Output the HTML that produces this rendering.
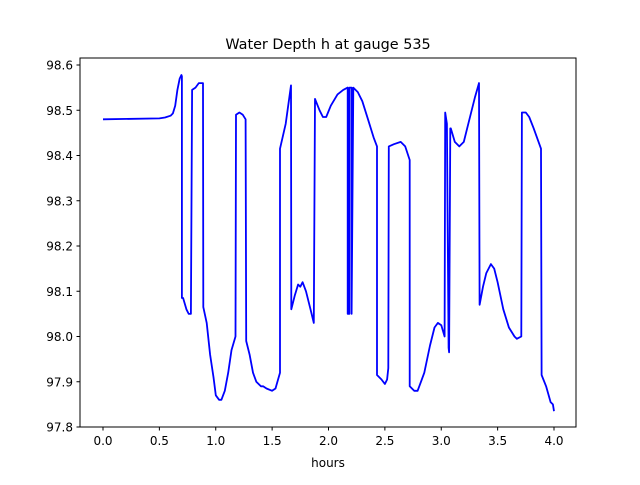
<!DOCTYPE html>
<html><head><meta charset="utf-8"><style>
body{margin:0;background:#fff;}
text{font-family:"DejaVu Sans","Liberation Sans",sans-serif;}
</style></head><body>
<svg id="chart" width="640" height="480" xmlns="http://www.w3.org/2000/svg">
<rect width="640" height="480" fill="#fff"/>
<text x="328" y="49" font-size="14.4" text-anchor="middle">Water Depth h at gauge 535</text>
<g id="axes"></g>
<path id="line" fill="none" stroke="#0000ff" stroke-width="1.8" stroke-linejoin="round"/>
<rect x="80" y="58" width="496" height="369" fill="none" stroke="#000" stroke-width="1"/>
<text x="328" y="467" font-size="12" text-anchor="middle">hours</text>
</svg>
<script>
const hours = [0,0.5,0.55,0.6,0.62,0.64,0.66,0.68,0.695,0.7,0.7,0.71,0.74,0.76,0.78,0.79,0.82,0.85,0.887,0.89,0.92,0.95,0.98,1.0,1.03,1.05,1.08,1.11,1.14,1.175,1.18,1.21,1.24,1.265,1.27,1.3,1.33,1.36,1.4,1.42,1.45,1.5,1.53,1.57,1.57,1.62,1.667,1.67,1.7,1.73,1.75,1.77,1.8,1.84,1.87,1.88,1.92,1.95,1.98,2.02,2.08,2.13,2.17,2.17,2.185,2.185,2.205,2.205,2.22,2.26,2.3,2.35,2.4,2.43,2.43,2.47,2.5,2.52,2.53,2.535,2.58,2.64,2.68,2.72,2.72,2.76,2.79,2.82,2.85,2.9,2.94,2.97,3.0,3.03,3.035,3.05,3.065,3.07,3.08,3.085,3.12,3.16,3.2,3.24,3.3,3.335,3.34,3.37,3.4,3.44,3.47,3.5,3.55,3.6,3.65,3.67,3.71,3.715,3.75,3.78,3.82,3.885,3.89,3.93,3.97,3.99,4.0];
const depth = [98.48,98.482,98.484,98.488,98.493,98.51,98.545,98.57,98.578,98.575,98.085,98.085,98.06,98.05,98.05,98.545,98.55,98.56,98.56,98.065,98.03,97.96,97.91,97.87,97.86,97.86,97.88,97.92,97.97,98.0,98.49,98.495,98.49,98.48,97.99,97.96,97.92,97.9,97.89,97.89,97.885,97.88,97.885,97.92,98.415,98.47,98.555,98.06,98.09,98.115,98.11,98.12,98.1,98.06,98.03,98.525,98.5,98.485,98.485,98.51,98.535,98.545,98.55,98.05,98.05,98.55,98.55,98.05,98.55,98.54,98.52,98.48,98.44,98.42,97.915,97.905,97.895,97.905,97.93,98.42,98.425,98.43,98.42,98.39,97.89,97.88,97.88,97.9,97.92,97.98,98.02,98.03,98.025,98.0,98.495,98.47,97.975,97.965,98.46,98.46,98.43,98.42,98.43,98.47,98.53,98.56,98.07,98.11,98.14,98.16,98.15,98.12,98.06,98.02,98.0,97.995,98.0,98.495,98.495,98.485,98.46,98.415,97.915,97.89,97.855,97.85,97.835];
const xTicks = [0.0,0.5,1.0,1.5,2.0,2.5,3.0,3.5,4.0];
const yTicks = [97.8,97.9,98.0,98.1,98.2,98.3,98.4,98.5,98.6];
const X = v => 103 + (v - 0) * 112.75;
const Y = v => 427 - (v - 97.8) * 452.5;
const ns = "http://www.w3.org/2000/svg";
const axes = document.getElementById('axes');
xTicks.forEach(t => {
  const l = document.createElementNS(ns,'line');
  l.setAttribute('x1',X(t));l.setAttribute('x2',X(t));l.setAttribute('y1',427);l.setAttribute('y2',430.5);l.setAttribute('stroke','#000');
  
  
  axes.appendChild(l);
  const tx = document.createElementNS(ns,'text');
  tx.setAttribute('x',X(t));tx.setAttribute('y',445);tx.setAttribute('font-size','12');tx.setAttribute('text-anchor','middle');
  tx.textContent = t.toFixed(1);
  
  
  axes.appendChild(tx);
});
yTicks.forEach(t => {
  const l = document.createElementNS(ns,'line');
  l.setAttribute('x1',76.5);l.setAttribute('x2',80);l.setAttribute('y1',Y(t));l.setAttribute('y2',Y(t));l.setAttribute('stroke','#000');
  
  
  axes.appendChild(l);
  const tx = document.createElementNS(ns,'text');
  tx.setAttribute('x',73);tx.setAttribute('y',Y(t)+4.5);tx.setAttribute('font-size','12');tx.setAttribute('text-anchor','end');
  tx.textContent = t.toFixed(1);
  
  
  axes.appendChild(tx);
});
document.getElementById('line').setAttribute('d', hours.map((h,i)=>(i?'L':'M')+X(h).toFixed(1)+','+Y(depth[i]).toFixed(1)).join(''));
</script>
</body></html>
